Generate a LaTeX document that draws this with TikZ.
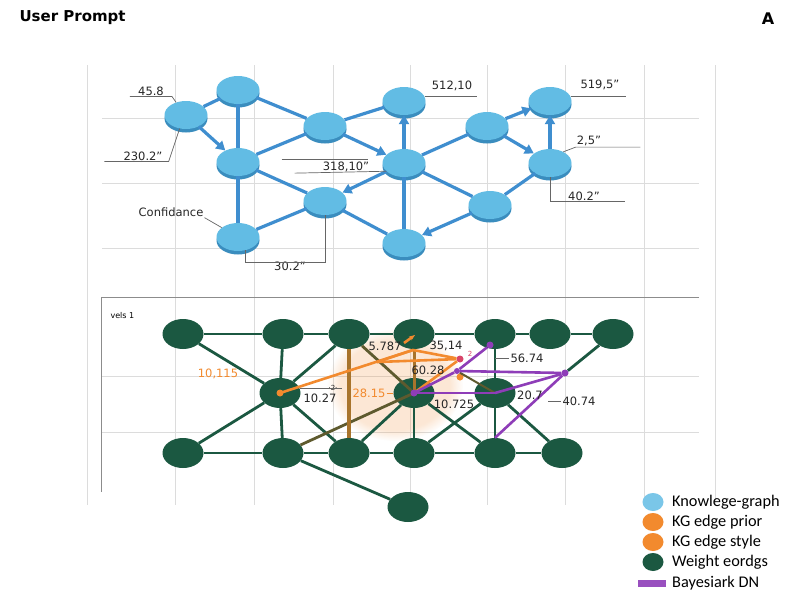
\documentclass[tikz,border=0pt]{standalone}
\usepackage{fontspec}
\setmainfont{DejaVu Sans}
\newfontfamily\legendfont{Carlito}
\usetikzlibrary{shapes.geometric,shadows,arrows.meta,fadings}

\definecolor{kgblue}{HTML}{62BCE4}
\definecolor{kgrim}{HTML}{3A8DBE}
\definecolor{kgline}{HTML}{3F8ECF}
\definecolor{wgreen}{HTML}{1B5841}
\definecolor{kgorange}{HTML}{F28A2E}
\definecolor{kgbrown}{HTML}{A8742C}
\definecolor{kgolive}{HTML}{5E5A2E}
\definecolor{bnpurple}{HTML}{8E3DB8}
\definecolor{bnpink}{HTML}{D8456A}
\definecolor{gridgrey}{HTML}{DCDCDC}

\tikzstyle{kgnode} = [ellipse, minimum width=43pt, minimum height=28pt, inner sep=0pt,
fill=kgblue, drop shadow={shadow xshift=0pt, shadow yshift=-3.5pt, opacity=1, fill=kgrim}]
\tikzstyle{wnode} = [ellipse, minimum width=41pt, minimum height=30pt, inner sep=0pt, fill=wgreen]
\tikzstyle{kgedge} = [kgline, line width=3.2pt]
\tikzstyle{kgarrow} = [kgedge, -{Triangle[length=9pt,width=10pt]}]
\tikzstyle{wedge} = [wgreen, line width=2.8pt]
\tikzstyle{prior} = [kgorange, line width=2.6pt]
\tikzstyle{bn} = [bnpurple, line width=2.6pt]
\tikzstyle{dot} = [circle, inner sep=0pt, minimum size=7pt]
\tikzstyle{leader} = [black!60, line width=0.7pt]
\tikzstyle{val} = [font=\fontsize{11.5}{13}\selectfont, inner sep=1pt, text=black!85]
\tikzstyle{gridline} = [gridgrey, line width=0.7pt]
\tikzstyle{legendtext} = [anchor=west, font=\legendfont\fontsize{16.3}{18}\selectfont, inner sep=0pt]

\begin{document}
\begin{tikzpicture}[x=1pt, y=-1pt]
\useasboundingbox [fill=white] (0,0) rectangle (800,600);

% background grid
\foreach \gx in {87,175,254,333,410,487,565,644,715}
  \draw [gridline] (\gx,65) -- (\gx,505);
\foreach \gy in {118,183,248,376,432}
  \draw [gridline] (102,\gy) -- (699,\gy);
\draw [black!45, line width=0.7pt] (699,297) -- (101,297) -- (101,492);

% titles
\node (title) [anchor=west, font=\bfseries\fontsize{15}{17}\selectfont] at (16,18) {User Prompt};
\node (tag) [font=\bfseries\fontsize{16}{18}\selectfont] at (768,19) {A};
\node (panel) [anchor=west, font=\fontsize{8}{9}\selectfont] at (107,316) {vels 1};

% knowledge graph
\node (k1) [kgnode] at (186,115) {};
\node (k2) [kgnode] at (238,90) {};
\node (k3) [kgnode] at (238,162) {};
\node (k4) [kgnode] at (325,126) {};
\node (k5) [kgnode] at (325,201) {};
\node (k6) [kgnode] at (238,237) {};
\node (k7) [kgnode] at (404,101) {};
\node (k8) [kgnode] at (404,163) {};
\node (k9) [kgnode] at (404,243) {};
\node (k10) [kgnode] at (487,126) {};
\node (k11) [kgnode] at (490,205) {};
\node (k12) [kgnode] at (550,101) {};
\node (k13) [kgnode] at (550,163) {};

\draw [kgedge] (k1) -- (k2);
\draw [kgarrow] (k1) -- (k3);
\draw [kgedge] (k2) -- (k3);
\draw [kgedge] (k2) -- (k4);
\draw [kgedge] (k4) -- (k3);
\draw [kgedge] (k4) -- (k7);
\draw [kgarrow] (k4) -- (k8);
\draw [kgedge] (k3) -- (k5);
\draw [kgedge] (k3) -- (k6);
\draw [kgedge] (k6) -- (k5);
\draw [kgarrow] (k8) -- (k5);
\draw [kgedge] (k5) -- (k9);
\draw [kgarrow] (k8) -- (k7);
\draw [kgedge] (k8) -- (k9);
\draw [kgedge] (k8) -- (k10);
\draw [kgedge] (k8) -- (k11);
\draw [kgarrow] (k10) -- (k12);
\draw [kgarrow] (k10) -- (k13);
\draw [kgarrow] (k13) -- (k12);
\draw [kgedge] (k13) -- (k11);
\draw [kgarrow] (k11) -- (k9);

% knowledge graph values
\node (v458) [val] at (151,91) {45.8};
\node (v2302) [val] at (143,156) {230.2"};
\node (v31810) [val] at (346,167) {318,10"};
\node (vconf) [val] at (171,212) {Confidance};
\node (v302) [val] at (290,266) {30.2"};
\node (v51210) [val] at (452,86) {512,10};
\node (v5195) [val] at (600,85) {519,5"};
\node (v25) [val] at (589,141) {2,5"};
\node (v402) [val] at (584,196) {40.2"};

\draw [leader] ([xshift=-7pt]v458.south west) -- ([xshift=7pt]v458.south east) -- (k1.128);
\draw [leader] ([xshift=-18pt]v2302.south west) -- ([xshift=5pt]v2302.south east) -- (k1.245);
\draw [leader] ([xshift=-40pt,yshift=2pt]v31810.north west) -- ([xshift=-2pt,yshift=2pt]v31810.north east);
\draw [leader] ([xshift=-27pt]v31810.south west) -- (k8.205);
\draw [leader] (vconf.south east) -- (k6.150);
\draw [leader] (k6.300) |- ([yshift=-2pt]k5.south |- v302.north) -- (k5.south);
\draw [leader] (k7.12) -- ([xshift=4pt]v51210.south east |- k7.12);
\draw [leader] (k12.12) -- ([xshift=5pt]v5195.south east |- k12.12);
\draw [leader] (k13.40) -- (v25.south west) -- ([xshift=38pt]v25.south east);
\draw [leader] (k13.south) |- ([xshift=24pt]v402.south east);

% weight graph
\fill [kgorange, opacity=0.2, path fading=circle with fuzzy edge 20 percent] (395,385) ellipse [x radius=68pt, y radius=56pt];

\node (wa1) [wnode] at (183,334) {};
\node (wa2) [wnode] at (283,334) {};
\node (wa3) [wnode] at (349,334) {};
\node (wa4) [wnode] at (414,334) {};
\node (wa5) [wnode] at (495,334) {};
\node (wa6) [wnode] at (550,334) {};
\node (wa7) [wnode] at (613,334) {};
\node (wb1) [wnode] at (280,393) {};
\node (wb2) [wnode] at (414,393) {};
\node (wb3) [wnode] at (495,393) {};
\node (wc1) [wnode] at (183,453) {};
\node (wc2) [wnode] at (283,453) {};
\node (wc3) [wnode] at (349,453) {};
\node (wc4) [wnode] at (414,453) {};
\node (wc5) [wnode] at (495,453) {};
\node (wc6) [wnode] at (562,453) {};
\node (wd) [wnode] at (408,507) {};

\draw [wedge] (wa1) -- (wa2) -- (wa3) -- (wa4) -- (wa5) -- (wa6) -- (wa7);
\draw [wedge] (wc1) -- (wc2) -- (wc3) -- (wc4) -- (wc5) -- (wc6);
\draw [wedge] (wa1) -- (wb1);
\draw [wedge] (wa2) -- (wb1);
\draw [wedge] (wa3) -- (wb1);
\draw [wedge] (wb1) -- (wc1);
\draw [wedge] (wb1) -- (wc2);
\draw [wedge] (wb1) -- (wc3);
\draw [wedge] (wc2) -- (wd);
\draw [wedge] (wb2) -- (wc3);
\draw [wedge] (wb2) -- (wc4);
\draw [wedge] (wb2) -- (wc5);
\draw [wedge] (wc4) -- (wb3);
\draw [wedge] (wa5) -- (wb3);
\draw [wedge] (wb3) -- (wc5);
\draw [wedge] (wb3) -- (wc6);
\draw [kgolive, line width=2.8pt] (wc2) -- (wb2.center);
\draw [kgolive, line width=2.8pt] (wa3) -- (wb2.center);
\draw [kgbrown, line width=3.2pt] (wa3) -- (wc3);
\draw [kgbrown, line width=3pt] (wa4) -- (wb2.center);

% prior and network edges
\coordinate (p1) at (413,350);
\coordinate (p4) at (377,362);
\node (p2) [dot, fill=bnpink] at (460,359) {};
\node (p3) [dot, fill=kgorange] at (460,377) {};
\node (q1) [dot, fill=bnpurple, minimum size=6pt] at (457,371) {};
\node (q2) [dot, fill=bnpurple] at (490,345) {};
\node (q3) [dot, fill=bnpurple] at (565,373) {};

\draw [prior] (wb1.center) -- (p1) -- (p2);
\draw [prior] (p4) -- (p2);
\draw [prior] (p1) -- (p4);
\draw [prior] (wb2.center) -- (p2);
\draw [prior, -{Stealth[length=6pt]}] (404,343) -- (415,335);
\draw [kgolive, line width=2pt] (q1) -- (wb3.center);
\draw [bn] (wb2.center) -- (wb3.center);
\draw [bn] (wb2.center) -- (q1);
\draw [bn] (q1) -- (q2);
\draw [bn] (q1) -- (q3);
\draw [bn] (q3) -- (wb3.center);
\draw [bn] (q3) -- (wc5.north);
\draw [wedge] (wa7) -- (q3);
\node (wb1dot) [dot, fill=kgorange] at (wb1.center) {};
\node (wb2dot) [dot, fill=bnpurple] at (wb2.center) {};

% weight values
\node (v10115) [val, text=kgorange] at (218,374) {10,115};
\node (v1027) [val] at (320,398) {10.27};
\node (vsmall) [val, font=\fontsize{7}{8}\selectfont] at (333,388) {·2·};
\node (v2815) [val, text=kgorange] at (369,393) {28.15};
\node (v5787) [val] at (385,346) {5.787};
\node (v3514) [val] at (446,346) {35,14};
\node (v6028) [val] at (428,370) {60.28};
\node (vtwo) [val, text=bnpink, font=\fontsize{7}{8}\selectfont] at (470,354) {2};
\node (v10725) [val] at (454,404) {10.725};
\node (v5674) [val] at (527,358) {56.74};
\node (v207) [val] at (530,395) {20.7};
\node (v4074) [val] at (579,401) {40.74};

\draw [leader] (wb1.12) -- ([xshift=4pt]wb1.12 -| v1027.north east);
\draw [kgorange, line width=0.8pt] (v2815.east) -- (wb2.west);
\draw [leader] (wa5.center |- v5674.west) -- (v5674.west);
\draw [leader] ([xshift=-13pt]v4074.west) -- (v4074.west);

% legend
\node (lg1) [ellipse, minimum width=21pt, minimum height=18pt, fill=kgblue!85] at (653,502) {};
\node (lg2) [ellipse, minimum width=21pt, minimum height=18pt, fill=kgorange] at (653,522) {};
\node (lg3) [ellipse, minimum width=21pt, minimum height=18pt, fill=kgorange] at (653,542) {};
\node (lg4) [ellipse, minimum width=21pt, minimum height=18pt, fill=wgreen] at (653,562) {};
\node (lg5) [rectangle, minimum width=28pt, minimum height=7pt, inner sep=0pt, fill=bnpurple!90] at (652,583) {};
\node (lt1) [legendtext] at (672,502) {Knowlege-graph};
\node (lt2) [legendtext] at (672,522) {KG edge prior};
\node (lt3) [legendtext] at (672,542) {KG edge style};
\node (lt4) [legendtext] at (672,562) {Weight eordgs};
\node (lt5) [legendtext] at (672,583) {Bayesiark DN};
\end{tikzpicture}
\end{document}
